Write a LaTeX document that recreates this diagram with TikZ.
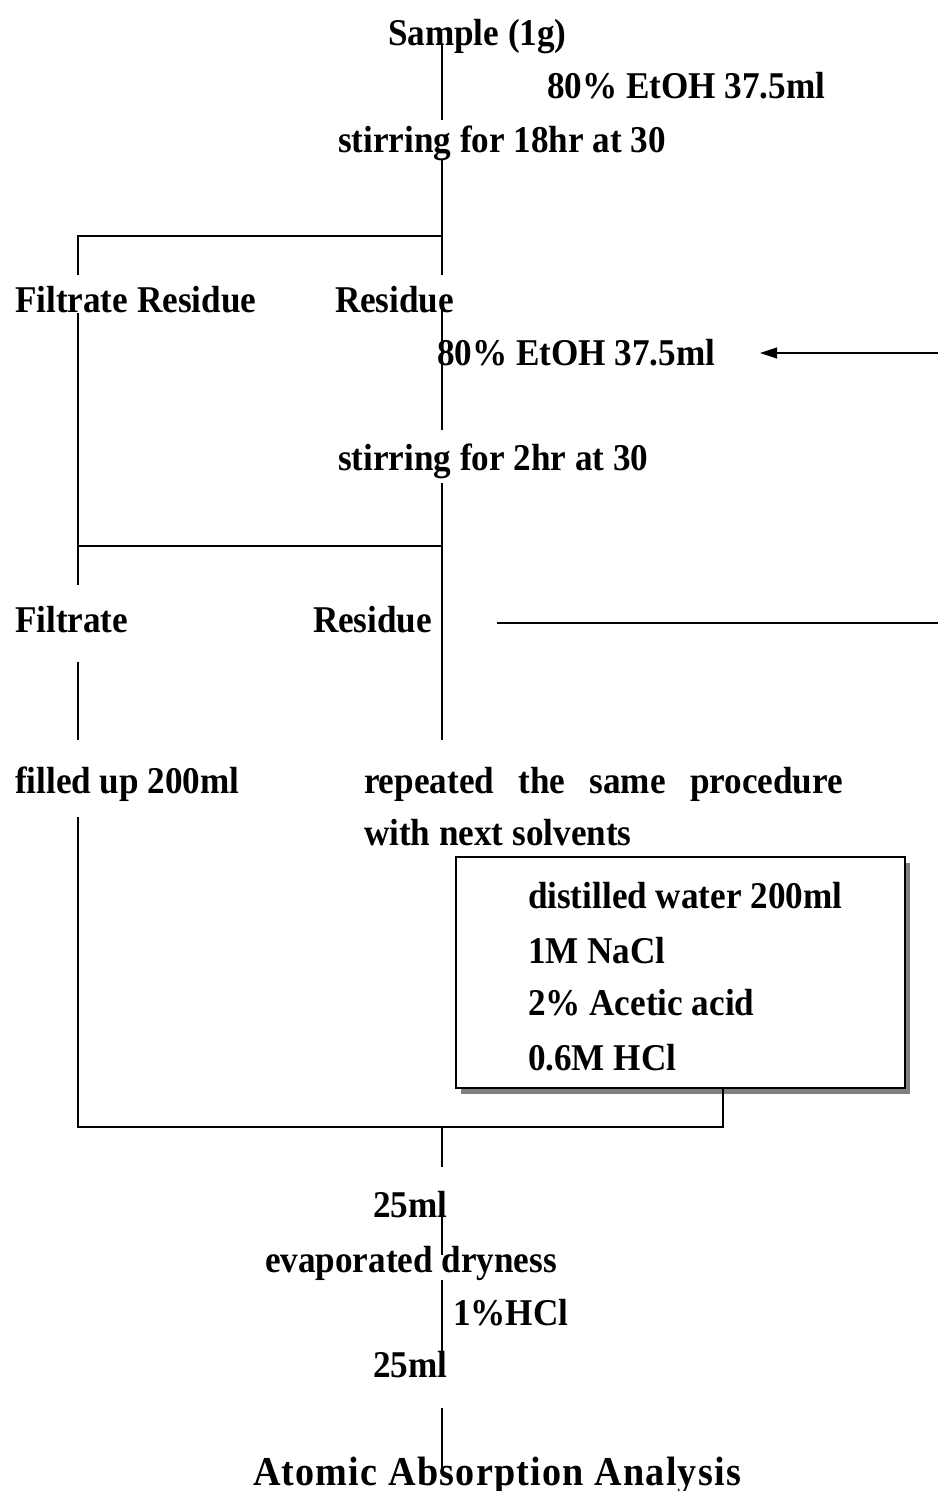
\documentclass[tikz,border=0pt]{standalone}
\usepackage{fontspec}
\setmainfont{Liberation Serif}[FakeStretch=0.93]
\newfontfamily\atomfont{Liberation Serif}[FakeStretch=0.93, LetterSpace=3]
\usetikzlibrary{arrows.meta,shadows}
\tikzset{
  lbl/.style={anchor=base west, inner sep=0pt, outer sep=0pt, font=\fontsize{37.8}{42}\selectfont\bfseries},
  conn/.style={line width=1.2pt, line cap=butt},
  solventbox/.style={draw, line width=1.2pt, fill=white, inner sep=0pt,
    minimum width=449pt, minimum height=231pt,
    drop shadow={shadow xshift=5pt, shadow yshift=-6pt, fill=black!50, opacity=1}},
  feed/.style={conn, -{Triangle[length=17pt,width=11pt]}},
}
\begin{document}
\begin{tikzpicture}[x=1pt,y=-1pt]
\useasboundingbox (0,0) rectangle (938,1491);
% texts
\node[lbl] (sample) at (388,45) {Sample (1g)};
\node[lbl] (etoh1) at (547,98) {80\% EtOH 37.5ml};
\node[lbl] (stir1) at (338,152) {stirring for 18hr at 30};
\node[lbl] (fr) at (15,312) {Filtrate Residue};
\node[lbl] (res1) at (335,312) {Residue};
\node[lbl] (etoh2) at (437,365) {80\% EtOH 37.5ml};
\node[lbl] (stir2) at (338,470) {stirring for 2hr at 30};
\node[lbl] (filt) at (15,632) {Filtrate};
\node[lbl] (res2) at (313,632) {Residue};
\node[lbl] (filled) at (15,793) {filled up 200ml};
\node[lbl] (rep1) at (364,793) {\makebox[479pt][s]{repeated the same procedure}};
\node[lbl] (rep2) at (364,845) {with next solvents};
\node[solventbox] (box) at (680.5,972.5) {};
\node[lbl] (s1) at (528,908) {distilled water 200ml};
\node[lbl] (s2) at (528,963) {1M NaCl};
\node[lbl] (s3) at (528,1015) {2\% Acetic acid};
\node[lbl] (s4) at (528,1070) {0.6M HCl};
\node[lbl] (ml1) at (373,1217) {25ml};
\node[lbl] (evap) at (265,1272) {evaporated dryness};
\node[lbl] (hcl) at (453,1325) {1\%HCl};
\node[lbl] (ml2) at (373,1377) {25ml};
\node[lbl, font=\fontsize{41}{46}\selectfont\atomfont\bfseries] (aaa) at (253,1485) {Atomic Absorption Analysis};
% coordinates
\coordinate (m1) at (442,43);
\coordinate (m2) at (442,120);
\coordinate (m3) at (442,159);
\coordinate (j1) at (442,236);
\coordinate (m4) at (442,275);
\coordinate (l1) at (78,236);
\coordinate (l2) at (78,275);
\coordinate (l3) at (78,313);
\coordinate (l4) at (78,585);
\coordinate (m5) at (442,303);
\coordinate (m6) at (442,430);
\coordinate (m7) at (442,483);
\coordinate (j2) at (442,546);
\coordinate (l5) at (78,546);
\coordinate (m8) at (442,740);
\coordinate (l6) at (78,662);
\coordinate (l7) at (78,740);
\coordinate (r1) at (938,353);
\coordinate (r2) at (760,353);
\coordinate (r3) at (497,623);
\coordinate (r4) at (938,623);
\coordinate (l8) at (78,817);
\coordinate (l9) at (78,1127);
\coordinate (b1) at (723,1127);
\coordinate (j3) at (442,1127);
\coordinate (n1) at (442,1167);
\coordinate (n2) at (442,1208);
\coordinate (n3) at (442,1255);
\coordinate (n4) at (442,1280);
\coordinate (n5) at (442,1377);
\coordinate (n6) at (442,1408);
\coordinate (n7) at (442,1473);
% connectors
\draw[conn] (m1) -- (m2);
\draw[conn] (m3) -- (m4);
\draw[conn] (l2) -- (l1) -- (j1);
\draw[conn] (l3) -- (l4);
\draw[conn] (m5) -- (m6);
\draw[conn] (m7) -- (m8);
\draw[conn] (l5) -- (j2);
\draw[conn] (l6) -- (l7);
\draw[feed] (r1) -- (r2);
\draw[conn] (r3) -- (r4);
\draw[conn] (l8) -- (l9) -- (b1) -- (box.south -| b1);
\draw[conn] (j3) -- (n1);
\draw[conn] (n2) -- (n3);
\draw[conn] (n4) -- (n5);
\draw[conn] (n6) -- (n7);
\end{tikzpicture}
\end{document}
